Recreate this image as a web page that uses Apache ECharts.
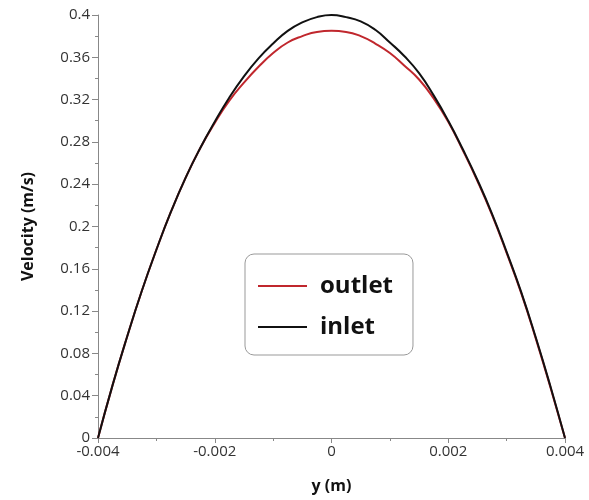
<!DOCTYPE html>
<html>
<head>
<meta charset="utf-8">
<script src="https://cdn.jsdelivr.net/npm/echarts@6/dist/echarts.min.js"></script>
<style>html,body{margin:0;padding:0;background:#fff}#c{width:589px;height:500px}</style>
</head>
<body>
<div id="c"></div>
<script>
const yPos = [-0.004,-0.00375,-0.0035,-0.00325,-0.003,-0.00275,-0.0025,-0.00225,-0.002,-0.00175,-0.0015,-0.00125,-0.001,-0.00075,-0.0005,-0.00025,0,0.00025,0.0005,0.00075,0.001,0.00125,0.0015,0.00175,0.002,0.00225,0.0025,0.00275,0.003,0.00325,0.0035,0.00375,0.004];
const inletV = [0,0.050,0.096,0.139,0.178,0.214,0.246,0.274,0.299,0.322,0.342,0.359,0.373,0.385,0.393,0.398,0.400,0.398,0.394,0.386,0.374,0.361,0.345,0.324,0.300,0.273,0.244,0.212,0.176,0.138,0.095,0.049,0];
const outletV = [0,0.050,0.096,0.139,0.178,0.214,0.246,0.274,0.298,0.319,0.336,0.351,0.364,0.374,0.380,0.384,0.385,0.384,0.380,0.373,0.364,0.352,0.339,0.321,0.299,0.272,0.243,0.211,0.175,0.137,0.094,0.048,0];
const seriesNames = ['outlet','inlet'];
const yTicks = [0,0.04,0.08,0.12,0.16,0.2,0.24,0.28,0.32,0.36,0.4];
const xTicks = [-0.004,-0.002,0,0.002,0.004];

const chart = echarts.init(document.getElementById('c'));
const font = '"Open Sans", sans-serif';
chart.setOption({
  animation: false,
  grid: {left: 98, right: 24, top: 15, bottom: 62},
  legend: {
    data: seriesNames.map(n => ({name: n, icon: 'rect'})),
    orient: 'vertical',
    left: 245, top: 254,
    padding: [20, 20, 16, 13],
    itemGap: 17,
    itemWidth: 49,
    itemHeight: 2,
    borderColor: '#999', borderWidth: 1, borderRadius: 9,
    textStyle: {fontFamily: font, fontSize: 24, fontWeight: 'bold', color: '#111', padding: [0,0,0,8]}
  },
  xAxis: {
    type: 'value', min: xTicks[0], max: xTicks[xTicks.length-1], interval: 0.002,
    name: 'y (m)', nameLocation: 'middle', nameGap: 40,
    nameTextStyle: {fontFamily: font, fontSize: 16, fontWeight: 'bold', color: '#111'},
    axisLine: {show: true, onZero: false, lineStyle: {color: '#888'}},
    axisTick: {show: true, length: 5, lineStyle: {color: '#888'}},
    minorTick: {show: true, splitNumber: 2, length: 3, lineStyle: {color: '#888'}},
    splitLine: {show: false},
    axisLabel: {fontFamily: font, fontSize: 15, color: '#333', margin: 6,
      formatter: v => String(+v.toFixed(3))}
  },
  yAxis: {
    type: 'value', min: yTicks[0], max: yTicks[yTicks.length-1], interval: 0.04,
    name: 'Velocity (m/s)', nameLocation: 'middle', nameGap: 62,
    nameTextStyle: {fontFamily: font, fontSize: 16, fontWeight: 'bold', color: '#111'},
    axisLine: {show: true, onZero: false, lineStyle: {color: '#888'}},
    axisTick: {show: true, length: 6, lineStyle: {color: '#888'}},
    minorTick: {show: true, splitNumber: 2, length: 3, lineStyle: {color: '#888'}},
    splitLine: {show: false},
    axisLabel: {fontFamily: font, fontSize: 15, color: '#333', margin: 8,
      formatter: v => String(+v.toFixed(2))}
  },
  series: [
    {name: seriesNames[0], type: 'line', symbol: 'none', smooth: 0.5,
     lineStyle: {color: '#c0272d', width: 2}, itemStyle: {color: '#c0272d'},
     data: yPos.map((x,i) => [x, outletV[i]])},
    {name: seriesNames[1], type: 'line', symbol: 'none', smooth: 0.5,
     lineStyle: {color: '#111', width: 2}, itemStyle: {color: '#111'},
     data: yPos.map((x,i) => [x, inletV[i]])}
  ]
});
</script>
</body>
</html>
